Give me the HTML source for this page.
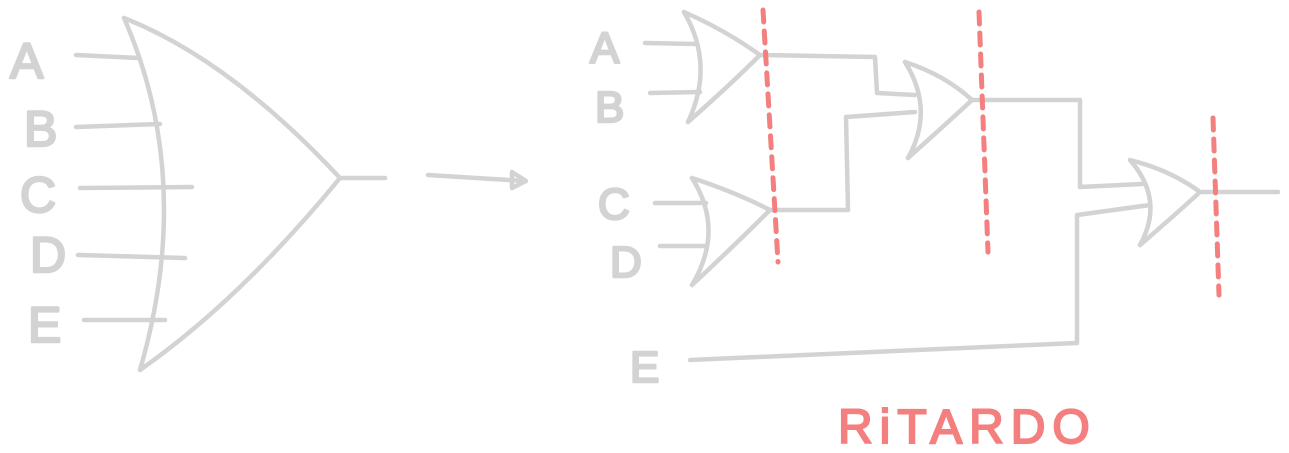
<!DOCTYPE html>
<html><head><meta charset="utf-8"><style>
html,body{margin:0;padding:0;background:#fff;}
svg{display:block;}
text{font-family:"Liberation Sans",sans-serif;}
</style></head><body>
<svg width="1289" height="453" viewBox="0 0 1289 453" xmlns="http://www.w3.org/2000/svg">
<g fill="none" stroke="#d3d3d3" stroke-width="4.5" stroke-linecap="round" stroke-linejoin="round">
  <g>
    <path d="M124,18 Q195,180 140,370"/>
    <path d="M124,18 Q230,60 340,178"/>
    <path d="M140,370 Q240,300 340,178"/>
    <path d="M340,178 L385,178"/>
    <path d="M76,55 L138,58"/>
    <path d="M76,127 L160,124"/>
    <path d="M80,188 L192,187"/>
    <path d="M78,255 L185,258"/>
    <path d="M84,320 L165,320"/>
  </g>
  <g>
    <path d="M428,175 L525,181"/>
    <path d="M512,172 L526,181 L512,188 Z"/>
  </g>
  <g>
    <path d="M684,12 Q715,65 688,122"/>
    <path d="M684,12 Q725,30 760,55"/>
    <path d="M688,122 Q730,85 760,55"/>
    <path d="M645,43 L697,44"/>
    <path d="M650,93 L700,92"/>
    <path d="M760,55 L875,57 L877,93 L915,95"/>
  </g>
  <g>
    <path d="M692,178 Q725,230 692,285"/>
    <path d="M692,178 Q735,192 770,210"/>
    <path d="M692,285 Q735,245 770,210"/>
    <path d="M655,203 L706,203"/>
    <path d="M660,246 L706,246"/>
    <path d="M770,210 L848,210 L846,117 L915,112"/>
  </g>
  <g>
    <path d="M905,62 Q935,110 908,158"/>
    <path d="M905,62 Q945,75 972,100"/>
    <path d="M908,158 Q945,125 972,100"/>
    <path d="M972,100 L1080,100 L1080,187 L1142,184"/>
  </g>
  <g>
    <path d="M1130,160 Q1165,200 1140,245"/>
    <path d="M1130,160 Q1170,170 1200,192"/>
    <path d="M1140,245 Q1175,215 1200,192"/>
    <path d="M1200,192 L1278,192"/>
    <path d="M690,360 L1077,343 L1077,215 L1150,205"/>
  </g>
</g>
<g fill="none" stroke="#f47f7f" stroke-width="5" stroke-linecap="round" stroke-dasharray="12 9">
  <path d="M763,10 L778,262"/>
  <path d="M979,12 L988,252"/>
  <path d="M1213,118 L1219,295"/>
</g>
<g fill="#d3d3d3" stroke="#d3d3d3" stroke-width="2.5" stroke-linejoin="round" font-size="50">
  <text x="10" y="78">A</text>
  <text x="24" y="146">B</text>
  <text x="20" y="212">C</text>
  <text x="30" y="272">D</text>
  <text x="28" y="342">E</text>
  <text x="590" y="63" font-size="44">A</text>
  <text x="595" y="122" font-size="44">B</text>
  <text x="598" y="219" font-size="44">C</text>
  <text x="610" y="277" font-size="44">D</text>
  <text x="630" y="382" font-size="44">E</text>
</g>
<text x="838" y="443" fill="#f47f7f" stroke="#f47f7f" stroke-width="2" font-size="48" letter-spacing="7">RiTARDO</text>
</svg>
</body></html>
